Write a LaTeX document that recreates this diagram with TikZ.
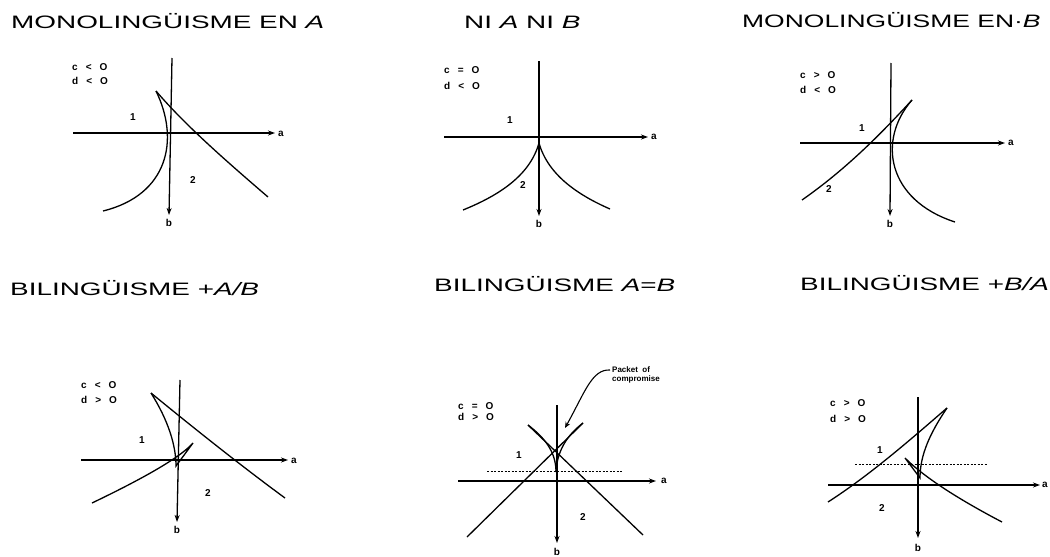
\documentclass[tikz,border=0pt]{standalone}
\usepackage{fontspec}
\setmainfont{Liberation Sans}
\usetikzlibrary{arrows.meta}
\newcommand\mytitle[2][1.55]{\scalebox{#1}[1]{\fontsize{18}{20}\selectfont #2}}
\newcommand\cnd[3]{#1\hspace{8pt}#2\hspace{8pt}#3}
\tikzset{
 axis/.style={line width=1.3pt,-{Stealth[length=7pt,width=5pt]}},
 curve/.style={line width=1.3pt},
 dotl/.style={line width=0.7pt,dash pattern=on 2pt off 1.5pt},
 title/.style={anchor=base west,inner sep=0pt},
 cond/.style={anchor=west,inner sep=0pt,font=\fontsize{10}{12}\selectfont\bfseries},
 lbl/.style={inner sep=0pt,font=\fontsize{10}{12}\selectfont\bfseries},
}
\begin{document}
\begin{tikzpicture}[x=1pt,y=-1pt]
\useasboundingbox (0,0) rectangle (1050,557);
\fill[white] (0,0) rectangle (1050,557);

% titles
\node[title] (t1) at (11,28) {\mytitle{MONOLINGÜISME EN \textit{A}}};
\node[title] (t2) at (464,28) {\mytitle{NI \textit{A} NI \textit{B}}};
\node[title] (t3) at (742,27) {\mytitle[1.47]{MONOLINGÜISME EN·\textit{B}}};
\node[title] (t4) at (10,295) {\mytitle{BILINGÜISME +\textit{A/B}}};
\node[title] (t5) at (434,291) {\mytitle{BILINGÜISME \textit{A}=\textit{B}}};
\node[title] (t6) at (800,290) {\mytitle{BILINGÜISME +\textit{B/A}}};

% ---------- panel 1 ----------
\coordinate (v1t) at (172,58); \coordinate (v1b) at (169,215);
\coordinate (h1l) at (73,133); \coordinate (h1r) at (275,133);
\draw[axis] (h1l) -- (h1r);
\draw[axis] (v1t) -- (v1b);
\node[lbl] (a1) at (281,134) {a};
\node[lbl] (b1) at (169,223) {b};
\coordinate (k1) at (156,91);
\coordinate (e1l) at (103,211); \coordinate (e1r) at (268,197);
\draw[curve] (k1) .. controls (180,140) and (168,195) .. (e1l);
\draw[curve] (k1) .. controls (185,125) and (225,160) .. (e1r);
\node[cond] (c1) at (72,67) {\cnd{c}{<}{O}};
\node[cond] (d1) at (72,81) {\cnd{d}{<}{O}};
\node[lbl] (r11) at (133,117) {1};
\node[lbl] (r12) at (193,180) {2};

% ---------- panel 2 ----------
\coordinate (v2t) at (539,61); \coordinate (v2b) at (539,216);
\coordinate (h2l) at (444,137); \coordinate (h2r) at (648,137);
\draw[axis] (h2l) -- (h2r);
\draw[axis] (v2t) -- (v2b);
\node[lbl] (a2) at (654,137) {a};
\node[lbl] (b2) at (539,224) {b};
\coordinate (k2) at (539,143);
\coordinate (e2l) at (463,210); \coordinate (e2r) at (610,209);
\draw[curve] (k2) .. controls (530,175) and (500,195) .. (e2l);
\draw[curve] (k2) .. controls (548,175) and (578,195) .. (e2r);
\node[cond] (c2) at (444,70) {\cnd{c}{=}{O}};
\node[cond] (d2) at (444,86) {\cnd{d}{<}{O}};
\node[lbl] (r21) at (510,120) {1};
\node[lbl] (r22) at (523,185) {2};

% ---------- panel 3 ----------
\coordinate (v3t) at (891,63); \coordinate (v3b) at (890,216);
\coordinate (h3l) at (800,143); \coordinate (h3r) at (1005,143);
\draw[axis] (h3l) -- (h3r);
\draw[axis] (v3t) -- (v3b);
\node[lbl] (a3) at (1011,143) {a};
\node[lbl] (b3) at (890,224) {b};
\coordinate (k3) at (912,100);
\coordinate (e3l) at (802,200); \coordinate (e3r) at (955,222);
\draw[curve] (k3) .. controls (880,135) and (845,170) .. (e3l);
\draw[curve] (k3) .. controls (877,140) and (887,200) .. (e3r);
\node[cond] (c3) at (800,75) {\cnd{c}{>}{O}};
\node[cond] (d3) at (800,90) {\cnd{d}{<}{O}};
\node[lbl] (r31) at (862,128) {1};
\node[lbl] (r32) at (829,189) {2};

% ---------- panel 4 ----------
\coordinate (v4t) at (180,380); \coordinate (v4b) at (177,522);
\coordinate (h4l) at (81,460); \coordinate (h4r) at (288,460);
\draw[axis] (h4l) -- (h4r);
\draw[axis] (v4t) -- (v4b);
\node[lbl] (a4) at (294,461) {a};
\node[lbl] (b4) at (177,530) {b};
\coordinate (k4) at (151,393);
\coordinate (k4b) at (176,466); \coordinate (k4c) at (193,443);
\coordinate (e4l) at (92,503); \coordinate (e4r) at (285,498);
\draw[curve] (k4) .. controls (190,425) and (240,465) .. (e4r);
\draw[curve] (k4) .. controls (168,420) and (176,445) .. (k4b) -- (k4c)
  .. controls (180,458) and (140,480) .. (e4l);
\node[cond] (c4) at (81,385) {\cnd{c}{<}{O}};
\node[cond] (d4) at (81,400) {\cnd{d}{>}{O}};
\node[lbl] (r41) at (142,440) {1};
\node[lbl] (r42) at (208,493) {2};

% ---------- panel 5 ----------
\coordinate (v5t) at (557,405); \coordinate (v5b) at (557,543);
\coordinate (h5l) at (458,481); \coordinate (h5r) at (656,481);
\coordinate (g5l) at (487,471); \coordinate (g5r) at (623,471);
\draw[dotl] (g5l) -- (g5r);
\draw[axis] (h5l) -- (h5r);
\draw[axis] (v5t) -- (v5b);
\node[lbl] (a5) at (664,481) {a};
\node[lbl] (b5) at (557,552) {b};
\coordinate (k5l) at (528,425); \coordinate (k5r) at (583,423);
\coordinate (e5l) at (467,537); \coordinate (e5r) at (643,535);
\coordinate (p5) at (556,472);
\draw[curve] (k5l) -- (e5r);
\draw[curve] (k5r) -- (e5l);
\draw[curve] (k5l) .. controls (545,438) and (556,452) .. (p5);
\draw[curve] (k5r) .. controls (566,436) and (557,452) .. (p5);
\node[cond] (c5) at (458,406) {\cnd{c}{=}{O}};
\node[cond] (d5) at (458,417) {\cnd{d}{>}{O}};
\node[lbl] (r51) at (519,455) {1};
\node[lbl] (r52) at (583,517) {2};
\node[anchor=west,inner sep=0pt,font=\fontsize{8}{9}\selectfont\bfseries,align=left]
  (pk) at (612,375) {Packet\ \ of\\compromise};
\draw[line width=1.1pt,-{Stealth[length=6pt,width=5pt]}]
  ([xshift=-2pt,yshift=5pt]pk.west) .. controls (592,369) and (585,392) .. (565,428);

% ---------- panel 6 ----------
\coordinate (v6t) at (918,397); \coordinate (v6b) at (918,538);
\coordinate (h6l) at (828,485); \coordinate (h6r) at (1040,485);
\coordinate (g6l) at (855,464); \coordinate (g6r) at (988,464);
\draw[dotl] (g6l) -- (g6r);
\draw[axis] (h6l) -- (h6r);
\draw[axis] (v6t) -- (v6b);
\node[lbl] (a6) at (1045,485) {a};
\node[lbl] (b6) at (918,548) {b};
\coordinate (k6) at (947,408);
\coordinate (k6b) at (920,478); \coordinate (k6c) at (905,458);
\coordinate (e6l) at (828,502); \coordinate (e6r) at (1002,522);
\draw[curve] (k6) .. controls (910,440) and (870,475) .. (e6l);
\draw[curve] (k6) .. controls (930,433) and (920,455) .. (k6b) -- (k6c)
  .. controls (925,478) and (960,500) .. (e6r);
\node[cond] (c6) at (830,403) {\cnd{c}{>}{O}};
\node[cond] (d6) at (830,419) {\cnd{d}{>}{O}};
\node[lbl] (r61) at (880,450) {1};
\node[lbl] (r62) at (882,508) {2};
\end{tikzpicture}
\end{document}
